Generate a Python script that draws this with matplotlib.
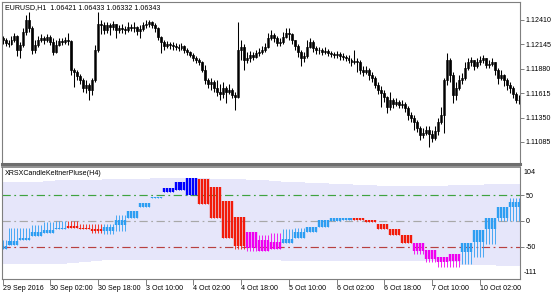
import numpy as np
import matplotlib
import matplotlib.pyplot as plt

matplotlib.use("Agg")
plt.rcParams['font.family'] = ['Liberation Sans', 'DejaVu Sans']

# ---- price panel: EURUSD H1 candles ----
first_open = 1.1221
closes = [1.1219, 1.1216, 1.1215, 1.1219, 1.1224, 1.1208, 1.1214, 1.1228, 1.1241, 1.1232,
          1.1208, 1.1214, 1.1219, 1.1221, 1.1219, 1.1223, 1.1217, 1.1206, 1.1214, 1.1218,
          1.1217, 1.1219, 1.1218, 1.1187, 1.1185, 1.1180, 1.1176, 1.1167, 1.1170, 1.1165,
          1.1176, 1.1208, 1.1237, 1.1235, 1.1230, 1.1235, 1.1233, 1.1237, 1.1230, 1.1232,
          1.1231, 1.1230, 1.1233, 1.1232, 1.1233, 1.1229, 1.1231, 1.1235, 1.1237, 1.1239,
          1.1236, 1.1232, 1.1223, 1.1217, 1.1213, 1.1215, 1.1214, 1.1213, 1.1212, 1.1211,
          1.1213, 1.1208, 1.1206, 1.1203, 1.1200, 1.1198, 1.1195, 1.1187, 1.1176, 1.1172,
          1.1174, 1.1167, 1.1163, 1.1161, 1.1167, 1.1163, 1.1165, 1.1160, 1.1157, 1.1208,
          1.1212, 1.1198, 1.1200, 1.1203, 1.1201, 1.1205, 1.1206, 1.1208, 1.1212, 1.1221,
          1.1225, 1.1221, 1.1216, 1.1217, 1.1223, 1.1227, 1.1226, 1.1219, 1.1213, 1.1206,
          1.1200, 1.1202, 1.1212, 1.1217, 1.1211, 1.1208, 1.1208, 1.1206, 1.1207, 1.1205,
          1.1204, 1.1203, 1.1204, 1.1202, 1.1201, 1.1200, 1.1198, 1.1195, 1.1196, 1.1195,
          1.1187, 1.1185, 1.1187, 1.1181, 1.1178, 1.1170, 1.1165, 1.1162, 1.1157, 1.1146,
          1.1154, 1.1150, 1.1152, 1.1149, 1.1150, 1.1145, 1.1138, 1.1135, 1.1130, 1.1124,
          1.1116, 1.1118, 1.1122, 1.1117, 1.1113, 1.1120, 1.1130, 1.1138, 1.1176, 1.1198,
          1.1181, 1.1160, 1.1167, 1.1176, 1.1178, 1.1189, 1.1195, 1.1198, 1.1191, 1.1195,
          1.1198, 1.1200, 1.1192, 1.1193, 1.1195, 1.1187, 1.1178, 1.1181, 1.1176, 1.1170,
          1.1167, 1.1161, 1.1154, 1.1154]
highs = [1.1224, 1.1221, 1.1219, 1.1224, 1.1227, 1.1225, 1.1217, 1.1232, 1.1246, 1.1250,
         1.1234, 1.1219, 1.1224, 1.1226, 1.1224, 1.1226, 1.1225, 1.1221, 1.1219, 1.1221,
         1.1221, 1.1223, 1.1227, 1.1219, 1.1189, 1.1187, 1.1182, 1.1178, 1.1176, 1.1173,
         1.1178, 1.1214, 1.1250, 1.1241, 1.1239, 1.1239, 1.1238, 1.1240, 1.1237, 1.1236,
         1.1237, 1.1234, 1.1239, 1.1237, 1.1239, 1.1234, 1.1236, 1.1239, 1.1241, 1.1241,
         1.1240, 1.1238, 1.1233, 1.1224, 1.1219, 1.1218, 1.1217, 1.1217, 1.1216, 1.1215,
         1.1216, 1.1214, 1.1211, 1.1207, 1.1205, 1.1202, 1.1200, 1.1196, 1.1192, 1.1178,
         1.1178, 1.1176, 1.1176, 1.1172, 1.1174, 1.1169, 1.1172, 1.1167, 1.1163, 1.1239,
         1.1219, 1.1215, 1.1206, 1.1207, 1.1206, 1.1208, 1.1211, 1.1213, 1.1216, 1.1227,
         1.1230, 1.1227, 1.1224, 1.1221, 1.1228, 1.1232, 1.1232, 1.1227, 1.1219, 1.1215,
         1.1208, 1.1206, 1.1219, 1.1221, 1.1219, 1.1213, 1.1212, 1.1211, 1.1212, 1.1210,
         1.1207, 1.1206, 1.1207, 1.1206, 1.1205, 1.1203, 1.1203, 1.1200, 1.1208, 1.1200,
         1.1198, 1.1191, 1.1191, 1.1189, 1.1185, 1.1180, 1.1174, 1.1169, 1.1165, 1.1158,
         1.1163, 1.1156, 1.1156, 1.1154, 1.1154, 1.1152, 1.1148, 1.1141, 1.1138, 1.1132,
         1.1126, 1.1124, 1.1126, 1.1126, 1.1122, 1.1126, 1.1135, 1.1146, 1.1178, 1.1205,
         1.1200, 1.1185, 1.1174, 1.1181, 1.1183, 1.1195, 1.1200, 1.1201, 1.1198, 1.1200,
         1.1202, 1.1203, 1.1200, 1.1198, 1.1200, 1.1195, 1.1189, 1.1187, 1.1182, 1.1178,
         1.1174, 1.1169, 1.1163, 1.1159]
lows = [1.1215, 1.1213, 1.1212, 1.1214, 1.1217, 1.1202, 1.1200, 1.1212, 1.1225, 1.1228,
        1.1204, 1.1205, 1.1212, 1.1217, 1.1215, 1.1217, 1.1214, 1.1203, 1.1205, 1.1213,
        1.1214, 1.1215, 1.1214, 1.1181, 1.1168, 1.1176, 1.1172, 1.1163, 1.1162, 1.1154,
        1.1160, 1.1174, 1.1206, 1.1226, 1.1226, 1.1227, 1.1225, 1.1230, 1.1221, 1.1227,
        1.1227, 1.1226, 1.1228, 1.1229, 1.1228, 1.1225, 1.1221, 1.1229, 1.1232, 1.1233,
        1.1232, 1.1228, 1.1219, 1.1205, 1.1208, 1.1211, 1.1210, 1.1208, 1.1208, 1.1207,
        1.1208, 1.1205, 1.1203, 1.1201, 1.1196, 1.1194, 1.1192, 1.1185, 1.1172, 1.1167,
        1.1165, 1.1163, 1.1158, 1.1154, 1.1156, 1.1151, 1.1161, 1.1156, 1.1143, 1.1156,
        1.1198, 1.1187, 1.1194, 1.1195, 1.1198, 1.1200, 1.1202, 1.1204, 1.1206, 1.1211,
        1.1219, 1.1217, 1.1213, 1.1213, 1.1215, 1.1221, 1.1219, 1.1215, 1.1208, 1.1201,
        1.1191, 1.1195, 1.1200, 1.1211, 1.1206, 1.1204, 1.1204, 1.1203, 1.1204, 1.1202,
        1.1201, 1.1200, 1.1200, 1.1198, 1.1198, 1.1196, 1.1194, 1.1191, 1.1193, 1.1185,
        1.1182, 1.1180, 1.1182, 1.1176, 1.1174, 1.1167, 1.1161, 1.1147, 1.1152, 1.1140,
        1.1143, 1.1145, 1.1148, 1.1145, 1.1145, 1.1141, 1.1132, 1.1130, 1.1122, 1.1119,
        1.1111, 1.1113, 1.1116, 1.1103, 1.1108, 1.1111, 1.1116, 1.1128, 1.1118, 1.1170,
        1.1174, 1.1151, 1.1154, 1.1165, 1.1172, 1.1176, 1.1187, 1.1191, 1.1187, 1.1189,
        1.1192, 1.1194, 1.1189, 1.1189, 1.1191, 1.1181, 1.1172, 1.1176, 1.1169, 1.1165,
        1.1162, 1.1156, 1.1151, 1.1150]
price_ticks = [1.12410, 1.12145, 1.11880, 1.11615, 1.11350, 1.11085]

time_ticks = [0, 16, 32, 48, 64, 80, 96, 112, 128, 144, 160]
time_labels = ['29 Sep 2016', '30 Sep 02:00', '30 Sep 18:00', '3 Oct 10:00', '4 Oct 02:00',
               '4 Oct 18:00', '5 Oct 10:00', '6 Oct 02:00', '6 Oct 18:00', '7 Oct 10:00',
               '10 Oct 02:00']

# ---- indicator panel: H4 candles of XRSX (first block has 2 H1 bars, the rest 4) ----
blk_open = [-54, -47, -37, -30, -24, -16, -9, -13, -15, -20, -7, 6, 27, 44, 56, 59, 50, 80, 65, 38,
            8, -22, -37, -41, -43, -32, -22, -11, -1, 2, 5, 2, -5, -15, -28, -43, -56, -70, -77, -60,
            -41, -16, 6, 27]
blk_close = [-49, -39, -32, -22, -18, -13, -13, -16, -20, -12, 2, 20, 35, 46, 63, 75, 82, 33, 6, -32,
             -49, -52, -58, -54, -35, -22, -11, 1, 6, 6, 2, -3, -15, -28, -43, -58, -73, -79, -64, -43,
             -18, 6, 27, 37]
blk_high = [-37, -13, -13, -7, -3, -1, -1, -5, -5, -5, 12, 20, 35, 46, 63, 75, 82, 80, 65, 38,
            8, -22, -28, -24, -16, -13, -11, 1, 6, 6, 5, 2, -5, -15, -28, -43, -56, -70, -64, -43,
            -18, 6, 27, 44]
blk_low = [-54, -47, -37, -30, -24, -16, -13, -16, -24, -26, -20, 6, 27, 44, 56, 59, 50, 33, 6, -32,
           -54, -58, -58, -54, -43, -32, -22, -11, -1, 2, 2, -3, -15, -28, -43, -64, -79, -89, -89, -83,
           -70, -45, -1, 0]
blk_color = ['lb', 'lb', 'lb', 'lb', 'lb', 'lb', 'r', 'r', 'r', 'lb', 'lb', 'lb', 'lb', 'lb', 'b', 'b',
             'b', 'r', 'r', 'r', 'r', 'm', 'm', 'm', 'lb', 'lb', 'lb', 'lb', 'lb', 'lb', 'r', 'r', 'r',
             'r', 'r', 'm', 'm', 'm', 'm', 'lb', 'lb', 'lb', 'lb', 'lb']
kc_upper = [75, 75, 76, 76, 77, 78, 78, 79, 79, 80, 80, 80, 81, 82, 82, 82, 82, 82, 81, 80,
            80, 79, 78, 77, 76, 75, 74, 73, 72, 71, 70, 69, 68, 68, 67, 67, 68, 68, 69, 70,
            70, 71, 72, 72]
kc_lower = [-83, -83, -83, -83, -83, -83, -82, -80, -78, -76, -76, -76, -76, -76, -75, -75, -75, -75, -76, -76,
            -76, -76, -76, -76, -77, -77, -77, -77, -77, -77, -77, -77, -77, -77, -77, -78, -78, -78, -80, -85,
            -85, -85, -86, -86]
levels = [50, 0, -50]

palette = {'lb': '#2E9EF2', 'b': '#0000FF', 'r': '#F21B0A', 'm': '#F000F0'}
frame_col = '#7F7F7F'
text_col = '#000000'
fs = 5.1

fig = plt.figure(figsize=(5.6, 2.94), dpi=100)
fig.patch.set_facecolor('white')
ax1 = fig.add_axes([2 / 560, 1 - 164 / 294, 518 / 560, 162 / 294])
ax2 = fig.add_axes([2 / 560, 1 - 278.5 / 294, 518 / 560, 111.5 / 294])
xmin, xmax = -0.18, 173.5

# candles
n = len(closes)
x = np.arange(n)
opens = np.array([first_open] + closes[:-1])
closes_a = np.array(closes)
hi = np.maximum(np.array(highs), np.maximum(opens, closes_a))
lo = np.minimum(np.array(lows), np.minimum(opens, closes_a))
ax1.vlines(x, lo, hi, color='black', lw=0.75)
up = closes_a >= opens
body_bot = np.minimum(opens, closes_a)
body_h = np.maximum(np.abs(closes_a - opens), 0.00004)
ax1.bar(x[up], body_h[up], bottom=body_bot[up], width=0.66, color='#D8D8D8',
        edgecolor='black', lw=0.5)
ax1.bar(x[~up], body_h[~up], bottom=body_bot[~up], width=0.66, color='black',
        edgecolor='black', lw=0.5)
ax1.set_xlim(xmin, xmax)
ax1.set_ylim(1.10846, 1.12605)
ax1.set_xticks([])
ax1.yaxis.tick_right()
ax1.set_yticks(price_ticks)
ax1.set_yticklabels([f'{p:.5f}' for p in price_ticks])
ax1.tick_params(axis='y', direction='out', length=3, width=0.7, colors=frame_col,
                labelcolor=text_col, labelsize=fs, pad=1)
ax1.text(0.006, 0.985, 'EURUSD,H1  1.06421 1.06433 1.06332 1.06343', transform=ax1.transAxes,
         fontsize=fs, va='top', ha='left', color=text_col)
for s in ax1.spines.values():
    s.set_color(frame_col)
    s.set_linewidth(0.8)
ax1.spines['bottom'].set_linewidth(2.2)
ax1.spines['bottom'].set_color('#6E6E6E')

# indicator panel
edges = [-0.5, 1.5] + [1.5 + 4 * k for k in range(1, len(blk_open))]
ax2.stairs(kc_upper, edges, baseline=kc_lower, fill=True, color='#E6E6FA', lw=0)
lvl_cols = ['#3FA33F', '#A8A8A8', '#B84040']
for lv, c in zip(levels, lvl_cols):
    ax2.axhline(lv, color=c, lw=0.85, ls=(0, (7, 3, 1.5, 3)))
for k in range(len(blk_open)):
    bars = np.arange(edges[k] + 0.5, edges[k + 1])
    col = palette[blk_color[k]]
    o, c, h, l = blk_open[k], blk_close[k], blk_high[k], blk_low[k]
    ax2.vlines(bars, l, h, color=col, lw=0.6)
    b0, b1 = min(o, c), max(o, c)
    if b1 - b0 < 2:
        b1 = b0 + 2
    ax2.vlines(bars, b0, b1, color=col, lw=1.7)
ax2.set_xlim(xmin, xmax)
ax2.set_ylim(-111, 104)
ax2.yaxis.tick_right()
ax2.set_yticks(levels)
ax2.set_yticklabels(['50', '0', '-50'])
ax2.tick_params(axis='y', direction='out', length=3, width=0.7, colors=frame_col,
                labelcolor=text_col, labelsize=fs, pad=1)
ax2.text(1.0075, 0.985, '104', transform=ax2.transAxes, fontsize=fs, va='top', ha='left')
ax2.text(1.0075, 0.02, '-111', transform=ax2.transAxes, fontsize=fs, va='bottom', ha='left')
ax2.set_xticks(time_ticks)
ax2.set_xticklabels(time_labels, ha='left')
ax2.tick_params(axis='x', direction='out', length=4, width=0.7, colors=frame_col,
                labelcolor=text_col, labelsize=fs, pad=0.5)
ax2.text(0.006, 0.975, 'XRSXCandleKeltnerPluse(H4)', transform=ax2.transAxes,
         fontsize=fs, va='top', ha='left', color=text_col)
for s in ax2.spines.values():
    s.set_color(frame_col)
    s.set_linewidth(0.8)
ax2.spines['top'].set_linewidth(1.2)

fig.savefig('out.png', dpi=100)
